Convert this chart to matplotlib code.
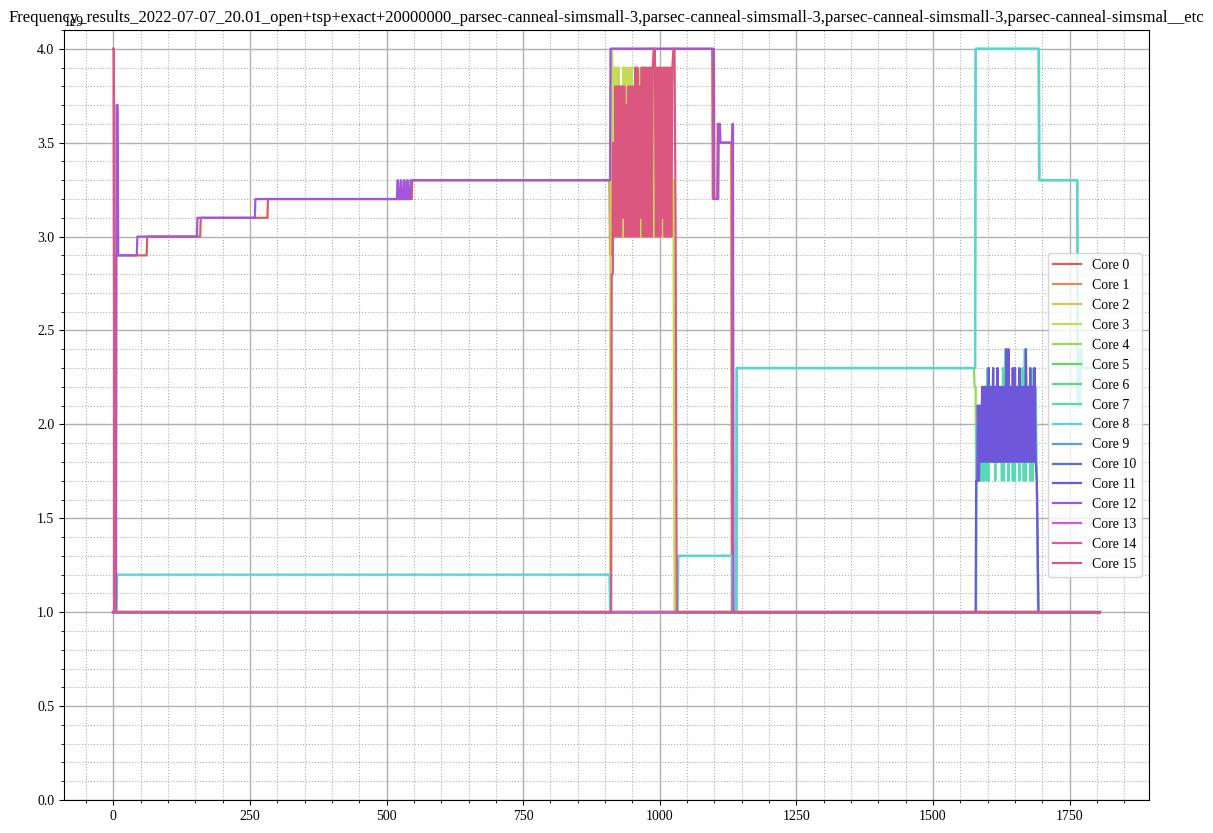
import matplotlib
matplotlib.use("Agg")
import matplotlib.pyplot as plt
import seaborn as sns

plt.rcParams['font.family'] = ['Liberation Serif', 'DejaVu Serif']
plt.rcParams['mathtext.fontset'] = 'stix'

TITLE = ("Frequency_results_2022-07-07_20.01_open+tsp+exact+20000000_parsec-canneal-simsmall-3,"
         "parsec-canneal-simsmall-3,parsec-canneal-simsmall-3,parsec-canneal-simsmal__etc")
CORE_LABELS = [f"Core {i}" for i in range(16)]
T_END = 1805
OSC_STEP = 2  # seconds between samples in the oscillating stretches

# Oscillating stretches (GHz)
osc_core15 = [3.5, 3.0, 3.8, 3.0, 3.8, 3.0, 3.8, 3.0, 3.8, 3.1,
              3.8, 3.0, 3.7, 3.0, 3.8, 3.0, 3.8, 3.0, 3.8, 3.0,
              3.9, 3.0, 3.9, 3.0, 3.8, 3.1, 3.9, 3.0, 3.9, 3.0,
              3.9, 3.0, 3.9, 3.0, 3.9, 3.0, 3.9, 4.0, 4.0, 3.0,
              3.9, 3.0, 3.9, 3.0, 3.9, 3.1, 3.9, 3.0, 3.9, 3.0,
              3.9, 3.0, 3.9, 3.0, 3.9, 4.0, 4.0, 3.0]
osc_core3 = [4.0, 3.1, 3.9, 3.0, 3.9, 3.0, 3.9, 3.0, 3.8, 3.0,
             3.9, 3.0, 3.9, 3.0, 3.9, 3.0, 3.9, 3.0, 3.9, 3.0,
             3.8, 3.0, 3.9, 3.0, 3.8, 3.0, 3.9, 3.0, 3.9, 3.0,
             3.9, 3.0, 3.8, 3.0, 3.9, 3.0, 3.9, 3.0, 3.9, 3.0,
             3.9, 3.0, 3.9, 3.0, 3.9, 3.0, 3.8, 3.0, 3.9, 3.0,
             3.9, 3.0, 3.9, 3.0, 3.9, 3.0, 3.3]
osc_core11 = [2.1, 1.7, 2.1, 1.8, 2.2, 1.8, 2.2, 1.8, 2.2, 1.8,
              2.3, 1.8, 2.2, 1.8, 2.3, 1.8, 2.2, 1.8, 2.3, 1.8,
              2.2, 1.8, 2.2, 1.8, 2.2, 1.8, 2.4, 1.8, 2.4, 1.8,
              2.2, 1.8, 2.3, 1.8, 2.3, 1.8, 2.2, 1.8, 2.3, 1.8,
              2.2, 1.8, 2.2, 1.8, 2.4, 1.8, 2.2, 1.8, 2.3, 1.8,
              2.2, 1.8, 2.3, 1.8, 1.7]
osc_core7 = [2.0, 1.7, 2.1, 1.7, 2.0, 1.7, 2.1, 1.7, 2.2, 1.7,
             2.3, 1.7, 2.2, 1.8, 2.1, 1.8, 2.2, 1.7, 2.2, 1.8,
             2.2, 1.8, 2.1, 1.7, 2.3, 1.7, 2.4, 1.8, 2.2, 1.7,
             2.2, 1.8, 2.1, 1.7, 2.2, 1.7, 2.2, 1.8, 2.2, 1.7,
             2.2, 1.8, 2.3, 1.7, 2.4, 1.7, 2.2, 1.8, 2.2, 1.7,
             2.2, 1.7, 2.3, 1.8, 2.2, 1.7]

# Per-core schedules: (start time [s], frequency [GHz] or oscillating list)
core0 = [(0, 1.0), (3, 2.9), (62, 3.0), (160, 3.1), (283, 3.2), (547, 3.3),
         (909, 2.9), (912, 4.0), (1097, 3.2), (1106, 3.6), (1110, 3.5), (1132, 1.0)]
core1 = [(0, 1.0)]
core2 = [(0, 1.0)]
core3 = [(0, 1.0), (910, 4.0), (913, osc_core3), (1027, 1.0)]
core4 = [(0, 1.0), (1141, 2.3), (1576, 2.2), (1579, 1.7), (1582, osc_core11), (1693, 1.0)]
core5 = [(0, 1.0)]
core6 = [(0, 1.0), (1141, 2.3), (1578, 4.0), (1694, 3.3), (1765, 2.1), (1770, 2.4), (1773, 2.3)]
core7 = [(0, 1.0), (1034, 1.3), (1134, 1.0), (1580, osc_core7), (1692, 1.0)]
core8 = [(0, 1.0), (7, 1.2), (909, 1.0), (1033, 1.3), (1134, 1.0), (1141, 2.3),
         (1578, 4.0), (1695, 3.3), (1765, 2.1), (1770, 2.4), (1773, 2.3)]
core9 = [(0, 1.0)]
core10 = [(0, 1.0)]
core11 = [(0, 1.0), (1579, 1.7), (1582, osc_core11), (1693, 1.0)]
core12 = [(0, 1.0), (6, 3.7), (9, 2.9), (44, 3.0), (154, 3.1), (260, 3.2),
          (520, 3.3), (522, 3.2), (526, 3.3), (528, 3.2), (532, 3.3), (534, 3.2),
          (538, 3.3), (540, 3.2), (544, 3.3), (910, 4.0), (1100, 3.2), (1108, 3.6),
          (1111, 3.5), (1133, 3.6), (1135, 1.0)]
core13 = [(0, 4.0), (2, 1.0)]
core14 = [(0, 4.0), (2, 1.0)]
core15 = [(0, 4.0), (2, 1.0), (912, 2.8), (915, osc_core15), (1031, 1.0)]

CORES = [core0, core1, core2, core3, core4, core5, core6, core7,
         core8, core9, core10, core11, core12, core13, core14, core15]


def build(schedule, t_end=T_END):
    xs, ys = [], []
    for i, (t, v) in enumerate(schedule):
        last = i + 1 >= len(schedule)
        t_next = t_end if last else schedule[i + 1][0] - 1
        if isinstance(v, list):
            for k, val in enumerate(v):
                xs.append(t + OSC_STEP * k)
                ys.append(val * 1e9)
        else:
            xs += [t, max(t, t_next)]
            ys += [v * 1e9, v * 1e9]
    return xs, ys


colors = sns.color_palette("hls", 16)

fig = plt.figure(figsize=(12.13, 8.33), dpi=100)
ax = fig.add_axes([64 / 1213, 1 - 800 / 833, (1149 - 64) / 1213, (800 - 30) / 833])

for sched, lab, col in zip(CORES, CORE_LABELS, colors):
    x, y = build(sched)
    ax.plot(x, y, color=col, label=lab, linewidth=1.6)

ax.set_ylim(0, 4.1e9)
ax.minorticks_on()
ax.grid(which='major', color='#b0b0b0', linewidth=1.0)
ax.grid(which='minor', color='#b0b0b0', linestyle=':', linewidth=0.8)
ax.set_title(TITLE, fontsize=12, y=1.0)
ax.legend(loc='center right')

fig.savefig("out.png", dpi=100)
